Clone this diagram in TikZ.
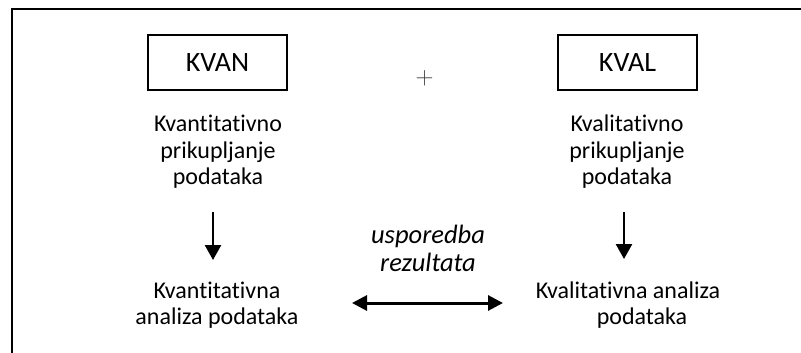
\documentclass[tikz,border=0pt]{standalone}
\usepackage{fontspec}
\setmainfont{Carlito}[Ligatures={NoCommon,NoRare,NoContextual}]
\usetikzlibrary{arrows.meta}
\newcommand\tix{t\kern0pt i}
\tikzset{
  txt/.style={font=\fontsize{24}{26.5}\selectfont, align=center, inner sep=0pt},
  hdr/.style={draw, line width=1.5pt, minimum width=139pt, minimum height=55pt, font=\fontsize{28}{30}\selectfont, inner sep=0pt},
  varrow/.style={line width=2.5pt, -{Triangle[length=15pt,width=16pt]}},
  darrow/.style={line width=3pt, {Triangle[length=15pt,width=15pt]}-{Triangle[length=15pt,width=15pt]}},
}
\begin{document}
\begin{tikzpicture}[x=1pt,y=-1pt]
\useasboundingbox (0,0) rectangle (801,353);
\coordinate (tl) at (12,9);
\coordinate (tr) at (801,9);
\coordinate (bl) at (12,353);
\draw[line width=2pt] (tr) -- (tl) -- (bl);
\node[hdr] (kvan) at (217.5,62.5) {KVAN};
\node[hdr] (kval) at (627.5,62.5) {KVAL};
\node[font=\fontsize{30}{30}\selectfont\rmfamily, text=black!75, inner sep=0pt] (plus) at (424.5,78) {$+$};
\node[txt] (qcol) at (218,152) {Kvan\tix ta\tix vno\\prikupljanje\\podataka};
\node[txt] (lcol) at (627,152) {Kvalita\tix vno\\prikupljanje\\podataka};
\node[txt] (qan) at (217,305) {Kvan\tix ta\tix vna\\analiza podataka};
\node[txt] (lan) at (628,305) {Kvalita\tix vna analiza\\\hspace*{28pt}podataka};
\node[txt, font=\fontsize{26.5}{28}\selectfont\itshape] (cmp) at (428,248) {usporedba\\rezultata};
\coordinate (a1s) at (213,212);
\coordinate (a1e) at (213,260);
\coordinate (a2s) at (624,212);
\coordinate (a2e) at (624,259);
\draw[varrow] (a1s) -- (a1e);
\draw[varrow] (a2s) -- (a2e);
\coordinate (ds) at (352,303);
\coordinate (de) at (503,303);
\draw[darrow] (ds) -- (de);
\end{tikzpicture}
\end{document}
